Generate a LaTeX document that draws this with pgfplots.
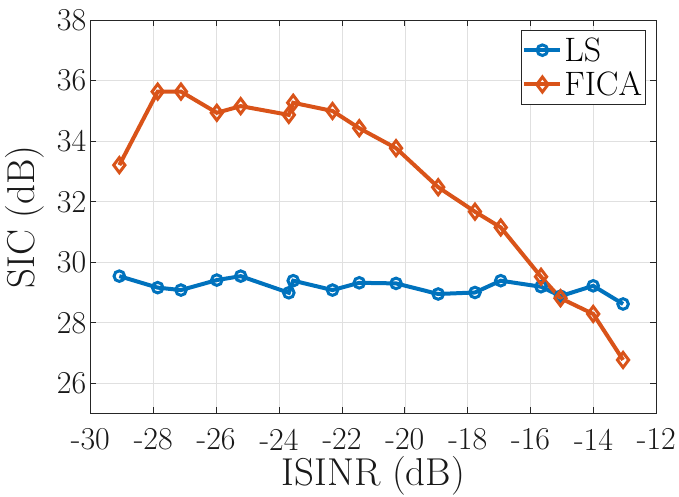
\documentclass[border=0pt]{standalone}
\usepackage{pgfplots}
\pgfplotsset{compat=1.18}
\definecolor{mblue}{rgb}{0,0.447,0.741}
\definecolor{morange}{rgb}{0.85,0.325,0.098}
\definecolor{axgray}{rgb}{0.15,0.15,0.15}
\begin{document}
\begin{tikzpicture}
\begin{axis}[
  scale only axis, width=566bp, height=393.3bp,
  xmin=-30, xmax=-12, ymin=25, ymax=38,
  xtick={-30,-28,-26,-24,-22,-20,-18,-16,-14,-12},
  xticklabels={-30,-28,-26,-24,-22,-20,-18,-16,-14,-12},
  ytick={26,28,30,32,34,36,38},
  yticklabels={26,28,30,32,34,36,38},
  grid=major, major grid style={draw=black!12, line width=0.6bp},
  tick align=inside, major tick length=6bp,
  axis line style={draw=axgray, line width=0.8bp},
  tick style={draw=axgray, line width=0.8bp},
  ticklabel style={font=\fontsize{32}{36}\selectfont, text=black!90, inner sep=4bp},
  xticklabel style={yshift=-11bp},
  label style={font=\fontsize{39}{44}\selectfont, text=black!90},
  xlabel={ISINR (dB)}, ylabel={SIC (dB)},
  xlabel style={at={([yshift=-62.5bp]axis description cs:0.5,0)}, anchor=center},
  ylabel style={at={([xshift=-66bp]axis description cs:0,0.5)}, anchor=center},
  legend style={at={(1,1)}, anchor=north east, xshift=-11bp, yshift=-10bp,
    draw=axgray, line width=0.8bp, fill=white, font=\fontsize{34}{36}\selectfont,
    inner xsep=1bp, inner ysep=5bp, row sep=5bp, column sep=0bp,
    nodes={inner sep=2bp},
    cells={anchor=west, text=black}},
  legend image code/.code={\draw[mark repeat=2, mark phase=2] plot coordinates {(0bp,0bp) (18bp,0bp) (36bp,0bp)};},
]
\addplot[color=mblue, line width=4bp, mark=o, mark size=5.3bp, mark options={line width=3bp}] coordinates {
(-29.08,29.54) (-27.86,29.16) (-27.12,29.08) (-25.98,29.41) (-25.22,29.54)
(-23.69,28.99) (-23.55,29.39) (-22.30,29.08) (-21.45,29.32) (-20.28,29.30)
(-18.94,28.95) (-17.77,29.00) (-16.95,29.39) (-15.67,29.19) (-15.05,28.88)
(-14.01,29.22) (-13.06,28.62)
};
\addlegendentry{LS}
\addplot[color=morange, line width=4bp, mark=diamond, mark size=7.5bp, mark options={line width=3bp}] coordinates {
(-29.08,33.21) (-27.86,35.64) (-27.12,35.64) (-25.98,34.94) (-25.22,35.16)
(-23.69,34.87) (-23.55,35.27) (-22.30,35.00) (-21.45,34.43) (-20.28,33.77)
(-18.94,32.48) (-17.77,31.67) (-16.95,31.15) (-15.67,29.52) (-15.05,28.81)
(-14.01,28.29) (-13.06,26.77)
};
\addlegendentry{FICA}
\end{axis}
\pgfresetboundingbox
\useasboundingbox (-90.4bp,-83.5bp) rectangle (588.6bp,413.5bp);
\end{tikzpicture}
\end{document}
